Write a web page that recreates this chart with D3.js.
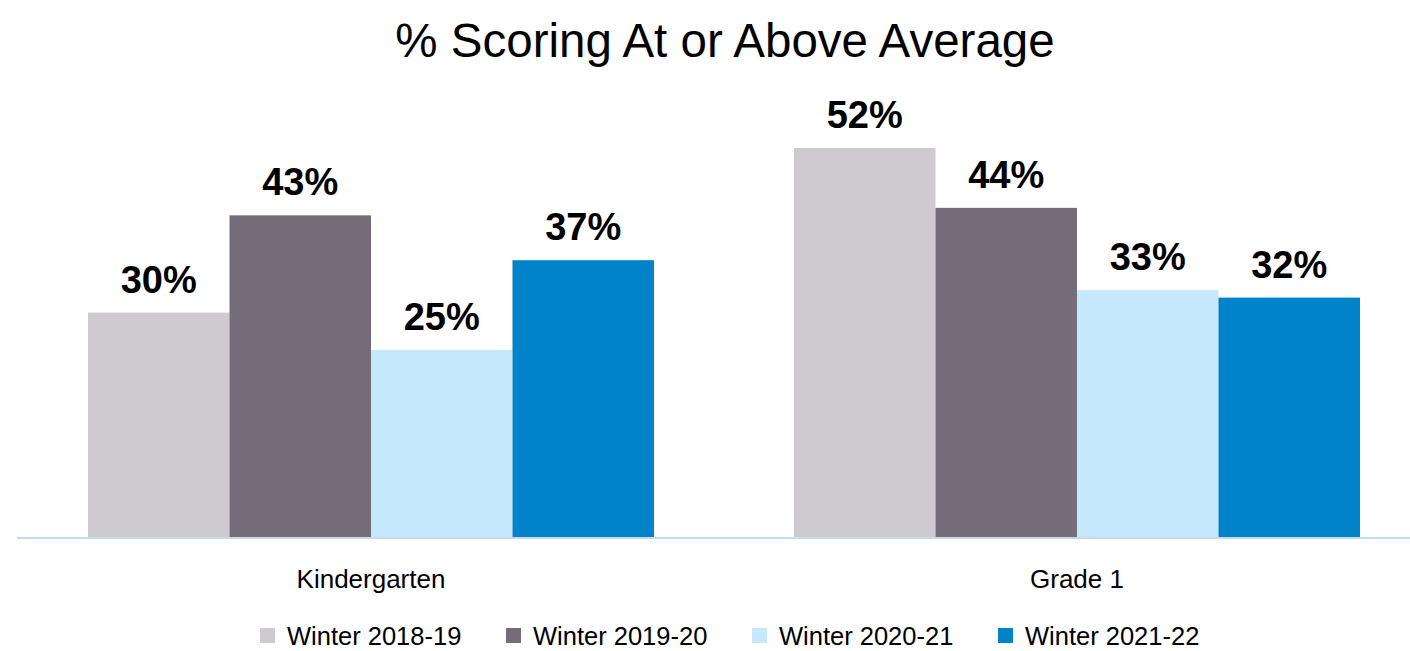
<!DOCTYPE html>
<html>
<head>
<meta charset="utf-8">
<script src="https://cdn.jsdelivr.net/npm/d3@7"></script>
<style>
  html, body { margin: 0; padding: 0; background: #fff; }
  svg { display: block; font-family: "Liberation Sans", Arial, sans-serif; }
</style>
</head>
<body>
<svg id="chart" width="1410" height="651"></svg>
<script>
// Grouped bars: two grade levels, four winter cohorts each.
const categories = ["Kindergarten", "Grade 1"];
const series = ["Winter 2018-19", "Winter 2019-20", "Winter 2020-21", "Winter 2021-22"];
const kindergarten = [30, 43, 25, 37];
const grade1 = [52, 44, 33, 32];
const colors = ["#cfcad0", "#756c7a", "#c5e8fc", "#0083c9"];

const values = [kindergarten, grade1];

const svg = d3.select("#chart");
const baseY = 537;

// Outer band per grade, inner band per cohort.
const x0 = d3.scaleBand().domain(categories).range([18, 1430]);
const x1 = d3.scaleBand().domain(series).range([70, 636]);
const y = d3.scaleLinear().domain([0, 52]).range([baseY, 148]);

svg.append("text")
  .attr("x", 725).attr("y", 57)
  .attr("text-anchor", "middle")
  .attr("font-size", 47.5)
  .text("% Scoring At or Above Average");

const groups = svg.selectAll("g.grp")
  .data(categories)
  .join("g")
  .attr("class", "grp")
  .attr("transform", (d) => `translate(${x0(d)},0)`);

groups.selectAll("rect")
  .data((d, i) => values[i].map((v, j) => ({ s: series[j], v, c: colors[j] })))
  .join("rect")
  .attr("x", (d) => x1(d.s))
  .attr("width", x1.bandwidth())
  .attr("y", (d) => y(d.v))
  .attr("height", (d) => baseY - y(d.v))
  .attr("fill", (d) => d.c);

groups.selectAll("text.lbl")
  .data((d, i) => values[i].map((v, j) => ({ s: series[j], v })))
  .join("text")
  .attr("class", "lbl")
  .attr("x", (d) => x1(d.s) + x1.bandwidth() / 2)
  .attr("y", (d) => y(d.v) - 20)
  .attr("text-anchor", "middle")
  .attr("font-size", 38)
  .attr("font-weight", "bold")
  .text((d) => d.v + "%");

// baseline
svg.append("line")
  .attr("x1", 17).attr("x2", 1410)
  .attr("y1", baseY + 1).attr("y2", baseY + 1)
  .attr("stroke", "#c5d9f1").attr("stroke-width", 2);

groups.append("text")
  .attr("x", x0.bandwidth() / 2)
  .attr("y", 588)
  .attr("text-anchor", "middle")
  .attr("font-size", 26)
  .text((d) => d);

// legend
const legend = svg.append("g").attr("transform", "translate(260,628)");
const item = legend.selectAll("g")
  .data(series)
  .join("g")
  .attr("transform", (d, i) => `translate(${i * 246},0)`);
item.append("rect")
  .attr("width", 15).attr("height", 15)
  .attr("fill", (d, i) => colors[i]);
item.append("text")
  .attr("x", 27).attr("y", 17)
  .attr("font-size", 25.5)
  .text((d) => d);
</script>
</body>
</html>
